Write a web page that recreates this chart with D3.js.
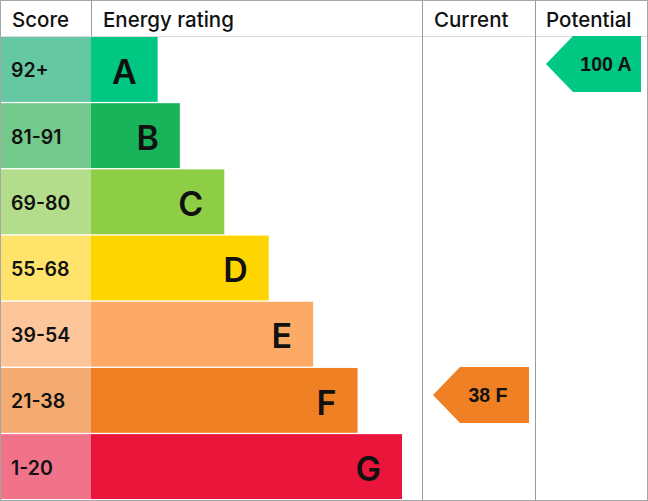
<!DOCTYPE html>
<html>
<head>
<meta charset="utf-8">
<script src="https://cdn.jsdelivr.net/npm/d3@7"></script>
<style>
  html, body { margin: 0; padding: 0; background: #fff; }
  svg { display: block; }
</style>
</head>
<body>
<div id="chart"></div>
<script>
var width = 648;
var height = 501;
var headerHeight = 36;

// chart data
var ratings = ["A", "B", "C", "D", "E", "F", "G"];
var scoreLabels = ["92+", "81-91", "69-80", "55-68", "39-54", "21-38", "1-20"];
var barUnits = [1.5, 2, 3, 4, 5, 6, 7];
var barColors = ["#00c781", "#19b459", "#8dce46", "#ffd500", "#fcaa65", "#ef8023", "#e9153b"];
var scoreColors = ["#65c8a2", "#74c98c", "#b3dd8a", "#ffe36a", "#fdc69a", "#f4ab71", "#f1738a"];
var headers = ["Score", "Energy rating", "Current", "Potential"];
var currentScore = 38, currentRating = "F";
var potentialScore = 100, potentialRating = "A";

var colScore = 91, colCurrent = 422, colPotential = 535, colEnd = 647;

var svg = d3.select("#chart").append("svg")
  .attr("width", width).attr("height", height);

var y = d3.scaleBand().domain(ratings).range([headerHeight + 1, height - 2]).paddingInner(0.02);
var x = d3.scaleLinear().domain([0, 7]).range([colScore, 402]);

var rows = svg.selectAll("g.row").data(ratings).enter().append("g").attr("class", "row");

// score cells
rows.append("rect")
  .attr("x", 0)
  .attr("y", function(d){ return y(d); })
  .attr("width", colScore)
  .attr("height", y.bandwidth())
  .attr("fill", function(d, i){ return scoreColors[i]; });

rows.append("text")
  .attr("x", 11)
  .attr("y", function(d){ return y(d) + y.bandwidth() / 2 + 1; })
  .attr("dy", "0.36em")
  .attr("font-family", "Inter, 'Noto Sans', sans-serif")
  .attr("font-size", 19.5)
  .attr("font-weight", 600)
  .attr("fill", "#111")
  .text(function(d, i){ return scoreLabels[i]; });

// rating bars
rows.append("rect")
  .attr("x", colScore)
  .attr("y", function(d){ return y(d); })
  .attr("width", function(d, i){ return x(barUnits[i]) - colScore; })
  .attr("height", y.bandwidth())
  .attr("fill", function(d, i){ return barColors[i]; });

rows.append("text")
  .attr("x", function(d, i){ return x(barUnits[i]) - 21; })
  .attr("y", function(d){ return y(d) + y.bandwidth() / 2 + 2; })
  .attr("dy", "0.36em")
  .attr("text-anchor", "end")
  .attr("font-family", "Inter, 'Noto Sans', sans-serif")
  .attr("font-size", 34)
  .attr("font-weight", 600)
  .attr("fill", "#111")
  .text(function(d){ return d; });

// grid lines
svg.append("line")
  .attr("x1", 0).attr("x2", colEnd).attr("y1", headerHeight + 0.5).attr("y2", headerHeight + 0.5)
  .attr("stroke", "#dcdcdc");
svg.append("line")
  .attr("x1", colScore + 0.5).attr("x2", colScore + 0.5).attr("y1", 0).attr("y2", headerHeight)
  .attr("stroke", "#9a9a9a");
[colCurrent, colPotential].forEach(function(cx){
  svg.append("line")
    .attr("x1", cx + 0.5).attr("x2", cx + 0.5).attr("y1", 0).attr("y2", height)
    .attr("stroke", "#9a9a9a");
});
svg.append("rect")
  .attr("x", 0.5).attr("y", 0.5).attr("width", width - 1).attr("height", height - 1)
  .attr("fill", "none").attr("stroke", "#a6a6a6");

// headers
var headerX = [12, 103, 434, 546];
svg.selectAll("text.header").data(headers).enter().append("text")
  .attr("class", "header")
  .attr("x", function(d, i){ return headerX[i]; })
  .attr("y", 27)
  .attr("font-family", "Inter, 'Noto Sans', sans-serif")
  .attr("font-size", 20.5)
  .attr("font-weight", 500)
  .attr("fill", "#111")
  .text(function(d){ return d; });

// arrows
function arrow(left, right, rating, score, textX) {
  var i = ratings.indexOf(rating);
  var top = y(rating) - 1;
  var h = 56, tip = 27;
  var pts = [[left, top + h / 2], [left + tip, top], [right, top], [right, top + h], [left + tip, top + h]];
  svg.append("polygon")
    .attr("points", pts.map(function(p){ return p.join(","); }).join(" "))
    .attr("fill", barColors[i]);
  svg.append("text")
    .attr("x", textX)
    .attr("y", top + h / 2)
    .attr("dy", "0.36em")
    .attr("text-anchor", "middle")
    .attr("font-family", "'Liberation Sans', Arial, sans-serif")
    .attr("font-size", 19.5)
    .attr("font-weight", "bold")
    .attr("fill", "#111")
    .text(score + " " + rating);
}
arrow(colCurrent + 11, colPotential - 6, currentRating, currentScore, 488);
arrow(colPotential + 11, colEnd - 6, potentialRating, potentialScore, 606);
</script>
</body>
</html>
